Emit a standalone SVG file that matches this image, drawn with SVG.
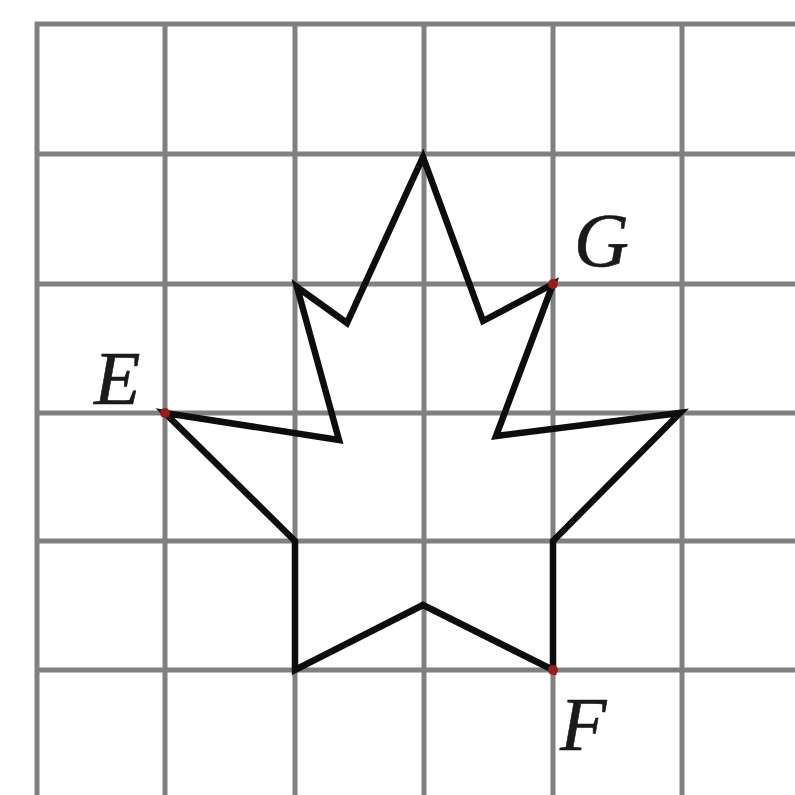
<svg xmlns="http://www.w3.org/2000/svg" width="795" height="795" viewBox="0 0 795 795">
<style>
.g{stroke:#808080;stroke-width:5;fill:none}
.s{stroke:#0d0d0d;stroke-width:6.5;fill:none;stroke-linejoin:miter}
.p{fill:#9b1b1b}
.t{font-family:"Liberation Serif","DejaVu Serif",serif;font-style:italic;font-size:76px;fill:#1a1a1a;stroke:#1a1a1a;stroke-width:0.6}
</style>
<rect width="795" height="795" fill="#fff"/>
<g id="grid">
<line class="g" x1="37" y1="22" x2="37" y2="795"/>
<line class="g" x1="165" y1="22" x2="165" y2="795"/>
<line class="g" x1="295" y1="22" x2="295" y2="795"/>
<line class="g" x1="424" y1="22" x2="424" y2="795"/>
<line class="g" x1="553" y1="22" x2="553" y2="795"/>
<line class="g" x1="682" y1="22" x2="682" y2="795"/>
<line class="g" x1="35" y1="24" x2="795" y2="24"/>
<line class="g" x1="35" y1="154" x2="795" y2="154"/>
<line class="g" x1="35" y1="284" x2="795" y2="284"/>
<line class="g" x1="35" y1="413" x2="795" y2="413"/>
<line class="g" x1="35" y1="541" x2="795" y2="541"/>
<line class="g" x1="35" y1="670" x2="795" y2="670"/>
</g>
<g id="leaf">
<polygon class="s" points="423,157 483,321 553,284 496,436 680,413 553,541 553,670 423,605 295,670 295,541 165,413 339,440 297,287 347,323"/>
</g>
<g id="points">
<circle class="p" cx="165" cy="413" r="5"/>
<circle class="p" cx="553" cy="284" r="5"/>
<circle class="p" cx="553" cy="670" r="5"/>
</g>
<g id="labels">
<text class="t" x="94" y="404">E</text>
<text class="t" x="574" y="266">G</text>
<text class="t" x="560" y="750">F</text>
</g>
</svg>
